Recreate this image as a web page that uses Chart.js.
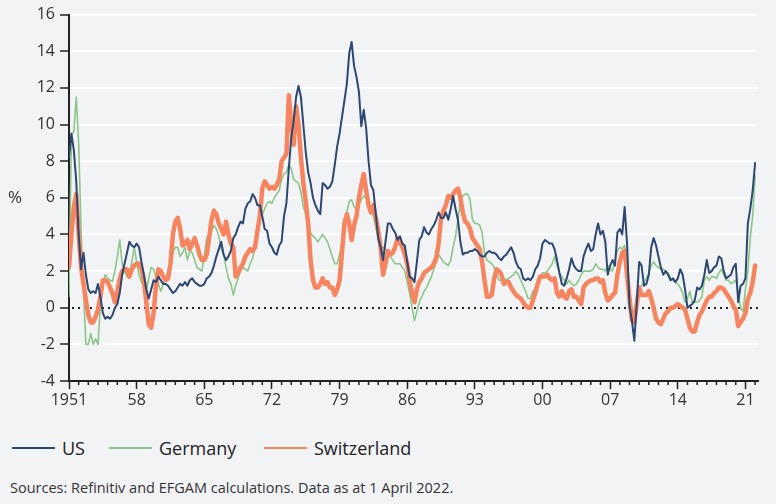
<!DOCTYPE html>
<html>
<head>
<meta charset="utf-8">
<script src="https://cdn.jsdelivr.net/npm/chart.js@4.4.1/dist/chart.umd.min.js"></script>
<style>
  html, body { margin: 0; padding: 0; }
  body { width: 776px; height: 504px; overflow: hidden; background: #f2f3f5; position: relative; font-family: 'Open Sans', sans-serif; }
  #wrap { position: absolute; left: 0; top: 0; width: 776px; height: 420px; }
  #legend { position: absolute; left: 12px; top: 438px; display: grid; grid-template-columns: 97px 155px auto; }
  .item { display: flex; align-items: center; font-size: 18px; line-height: 20px; color: #222; }
  .swatch { width: 43px; height: 2px; margin-right: 7px; }
  #source { position: absolute; left: 10px; top: 479px; font-size: 14.5px; line-height: 18px; color: #333; }
</style>
</head>
<body>
<div id="wrap"><canvas id="chart" width="776" height="420"></canvas></div>
<div id="legend"></div>
<div id="source">Sources: Refinitiv and EFGAM calculations. Data as at 1 April 2022.</div>
<script>
// Quarterly readings, 1951 Q1 to 2022 Q1 (one row per year)
const usCpi = [
  8.2, 9.5, 8.6, 6.9,
  4.0, 2.1, 3.0, 1.8,
  1.0, 0.8, 0.9, 0.8,
  1.3, 0.6, -0.3, -0.6,
  -0.5, -0.6, -0.4, 0.0,
  0.2, 0.8, 1.8, 2.4,
  3.0, 3.6, 3.4, 3.3,
  3.5, 3.3, 2.5, 1.8,
  1.0, 0.5, 1.0, 1.5,
  1.4, 1.7, 1.5, 1.3,
  1.3, 1.2, 1.0, 0.8,
  0.9, 1.1, 1.3, 1.2,
  1.4, 1.2, 1.5, 1.6,
  1.4, 1.3, 1.2, 1.2,
  1.3, 1.6, 1.7, 1.9,
  2.3, 2.8, 3.2, 3.6,
  2.9, 2.6, 2.8, 3.1,
  3.8, 4.0, 4.4, 4.7,
  4.6, 5.4, 5.7, 5.8,
  6.2, 6.0, 5.6, 5.6,
  5.0, 4.3, 4.2, 3.5,
  3.3, 3.0, 2.9, 3.4,
  3.6, 5.0, 5.7, 7.6,
  9.3, 10.2, 11.5, 12.1,
  11.5, 10.0, 8.5, 7.4,
  6.8, 6.0, 5.6, 5.3,
  5.1, 6.8, 6.7, 6.5,
  6.6, 6.9, 7.8, 8.8,
  9.5, 10.4, 11.3, 12.2,
  13.9, 14.5, 13.2, 12.6,
  11.8, 9.9, 10.8, 9.8,
  8.0, 6.7, 6.4, 5.1,
  3.8, 3.3, 2.6, 3.6,
  4.6, 4.6, 4.3, 4.1,
  3.7, 3.9, 3.5, 3.4,
  2.5, 1.7, 1.6, 1.4,
  2.5, 3.7, 3.9, 4.4,
  4.1, 4.0, 4.3, 4.5,
  4.8, 5.2, 4.9, 4.9,
  5.2, 4.8, 5.4, 6.1,
  5.4, 4.8, 3.6, 2.9,
  3.0, 3.0, 3.1, 3.1,
  3.2, 3.1, 2.9, 2.8,
  2.8, 3.0, 3.1, 3.0,
  3.0, 2.9, 2.7, 2.6,
  2.8, 2.9, 3.1, 3.3,
  3.0, 2.5, 2.2, 2.1,
  1.6, 1.5, 1.6, 1.5,
  1.7, 2.1, 2.3, 2.7,
  3.5, 3.7, 3.6, 3.5,
  3.5, 3.2, 2.6, 1.9,
  1.3, 1.2, 1.6, 2.1,
  2.7, 2.3, 2.1, 2.0,
  2.0, 2.8, 3.2, 3.5,
  3.1, 3.2, 4.0, 4.6,
  4.0, 4.2, 3.6, 1.8,
  2.3, 2.6, 2.3, 4.1,
  4.3, 4.0, 5.5, 3.5,
  0.1, -0.7, -1.8, 0.2,
  2.5, 2.3, 1.2, 1.3,
  1.8, 3.3, 3.8, 3.4,
  2.8, 2.2, 1.8, 2.0,
  1.8, 1.5, 1.6, 1.4,
  1.6, 2.1, 1.8, 1.0,
  0.0, 0.1, 0.2, 0.4,
  1.1, 1.0, 1.2, 1.8,
  2.6, 1.9, 2.0, 2.2,
  2.3, 2.8, 2.7, 2.0,
  1.6, 1.7, 1.8, 2.2,
  2.4, 0.3, 1.2, 1.3,
  1.6, 4.6, 5.4, 6.4,
  7.9
];

const germanyCpi = [
  0.6, 9.5, 9.6, 11.5,
  9.0, 4.2, 1.0, -2.0,
  -2.0, -1.4, -2.0, -1.7,
  -2.0, 0.2, 1.3, 1.8,
  1.6, 1.5, 1.45, 2.0,
  2.8, 3.7, 2.4, 2.0,
  1.7, 1.6, 2.5, 3.3,
  2.5, 1.8, 1.4, 1.1,
  0.9, 1.6, 2.2, 2.1,
  1.7, 1.3, 0.9, 1.3,
  1.6, 2.0, 2.4, 3.0,
  3.3, 3.3, 2.8, 3.0,
  3.3, 2.6, 3.1, 3.0,
  2.6, 2.2, 2.1, 2.0,
  2.8, 3.8, 4.0, 4.2,
  4.5, 4.3, 3.9, 3.2,
  2.9, 2.2, 1.6, 1.3,
  0.7, 1.2, 1.6, 2.0,
  2.2, 2.1, 2.0, 2.4,
  2.7, 3.3, 3.9, 4.7,
  5.1, 5.4, 5.7, 5.8,
  5.7, 6.0, 6.2, 6.4,
  7.0, 7.3, 7.4, 7.8,
  7.6, 7.0, 6.9, 6.8,
  6.3, 5.5, 5.1, 4.5,
  4.1, 3.9, 3.8, 3.6,
  3.8, 4.0, 3.8, 3.6,
  3.2, 2.8, 2.4, 2.4,
  2.9, 3.5, 4.4, 5.2,
  5.8, 5.9, 5.5, 5.4,
  5.6, 5.9, 6.1, 6.0,
  5.7, 5.4, 5.0, 4.4,
  3.8, 3.3, 3.3, 3.2,
  3.1, 2.8, 2.6, 2.4,
  2.4, 2.4, 2.2, 2.0,
  1.4, 0.8, 0.0, -0.7,
  -0.2, 0.3, 0.6, 0.9,
  1.1, 1.4, 1.7, 2.1,
  2.5, 2.9, 2.7, 2.5,
  2.4, 2.3, 2.6, 3.3,
  3.9, 4.8, 5.8, 6.1,
  6.2, 6.2, 5.9, 4.8,
  4.6, 4.6, 4.5, 4.1,
  3.0, 2.6, 2.5, 2.4,
  2.2, 1.8, 1.5, 1.5,
  1.6, 1.5, 1.6, 1.7,
  1.8, 2.0, 1.8, 1.5,
  1.2, 0.9, 0.5, 0.5,
  0.9, 1.0, 1.3, 1.5,
  1.9, 1.9, 2.0, 2.2,
  2.4, 2.8, 2.3, 1.9,
  1.7, 1.5, 1.3, 1.5,
  1.3, 1.2, 1.3, 1.5,
  1.8, 2.0, 2.0, 2.0,
  2.0, 2.1, 2.4, 2.2,
  2.1, 2.1, 2.0, 2.3,
  2.1, 2.0, 2.6, 3.1,
  3.3, 3.2, 3.4, 2.3,
  0.8, 0.0, -0.3, 0.5,
  1.1, 1.2, 1.4, 1.6,
  1.9, 2.3, 2.5, 2.3,
  2.2, 2.1, 2.1, 2.0,
  1.9, 1.6, 1.5, 1.4,
  1.3, 1.1, 0.8, 0.3,
  0.5, 0.9, 0.3, 0.3,
  0.3, 0.4, 0.6, 1.5,
  1.7, 1.5, 1.7, 1.7,
  1.6, 1.9, 2.1, 1.8,
  1.5, 1.5, 1.3, 1.4,
  1.5, 0.8, 0.0, -0.2,
  1.0, 2.0, 3.8, 5.0,
  7.2
];

const swissCpi = [
  2.2, 4.0, 5.5, 6.2,
  4.0, 2.2, 1.3, 0.4,
  -0.4, -0.8, -0.8, -0.5,
  -0.1, 0.6, 1.5, 1.5,
  1.4, 1.1, 0.8, 0.3,
  0.9, 1.6, 2.0, 2.1,
  2.1, 1.7, 2.1, 2.3,
  2.4, 2.4, 2.1, 1.5,
  0.3, -0.9, -1.1, -0.3,
  1.2, 2.1, 2.0, 1.7,
  1.5, 1.6, 2.4, 4.0,
  4.7, 4.9, 4.3, 3.4,
  3.5, 3.7, 3.2, 3.5,
  3.8, 3.4, 2.9, 2.6,
  2.6, 2.9, 3.8, 4.8,
  5.3, 5.1, 4.6, 4.3,
  4.0, 4.7, 4.0, 3.5,
  3.3, 1.7, 1.9, 2.2,
  2.4, 2.8, 3.0, 3.2,
  3.1, 3.3, 4.2, 5.0,
  6.5, 6.9, 6.7, 6.5,
  6.6, 6.5, 6.7, 7.0,
  8.0, 8.2, 8.4, 11.6,
  10.0, 8.9, 11.0, 10.0,
  8.2, 6.8, 5.8, 4.6,
  2.6, 1.5, 1.1, 1.1,
  1.3, 1.6, 1.3, 1.4,
  1.1, 1.1, 0.7, 1.0,
  1.5, 3.0, 4.6, 5.1,
  4.6, 3.7, 4.5, 5.0,
  6.0, 6.7, 7.3, 6.4,
  5.6, 5.2, 5.6, 4.9,
  4.2, 3.3, 1.8, 2.4,
  3.1, 2.9, 3.0, 3.3,
  3.8, 3.6, 3.3, 2.9,
  2.4, 1.5, 0.8, 0.3,
  1.0, 1.4, 1.6, 1.9,
  2.0, 2.1, 2.2, 2.4,
  2.7, 3.5, 4.9, 5.3,
  5.6, 6.1, 6.0, 6.2,
  6.4, 6.5, 6.0, 5.2,
  4.7, 4.6, 4.3, 3.8,
  3.6, 3.4, 3.2, 2.5,
  1.5, 0.6, 0.6, 0.7,
  1.6, 2.1, 2.0, 1.8,
  1.3, 1.4, 1.4, 1.1,
  0.9, 0.7, 0.6, 0.5,
  0.3, 0.1, 0.0, 0.0,
  0.4, 0.8, 1.3, 1.7,
  1.7, 1.7, 1.8, 1.6,
  1.5, 1.6, 0.8, 0.6,
  0.9, 0.6, 0.5, 0.9,
  1.0, 0.6, 0.6, 0.4,
  0.2, 1.1, 1.3, 1.4,
  1.5, 1.5, 1.6, 1.6,
  1.4, 1.5, 0.8, 0.4,
  0.5, 0.7, 0.8, 1.8,
  2.5, 3.0, 3.1, 1.8,
  0.5, -0.7, -0.8, 0.2,
  1.1, 0.7, 0.7, 0.7,
  0.9, 0.5, 0.0, -0.6,
  -0.8, -0.9, -0.6, -0.3,
  -0.2, 0.0, 0.0, 0.1,
  0.2, 0.1, 0.0, -0.1,
  -0.6, -1.1, -1.3, -1.3,
  -0.8, -0.4, -0.2, 0.1,
  0.4, 0.6, 0.6, 0.8,
  0.9, 1.1, 1.1, 1.0,
  0.8, 0.6, 0.4, 0.1,
  -0.1, -1.0, -0.8, -0.6,
  -0.3, 0.5, 0.8, 1.4,
  2.3
];

const firstYear = 1951;
const quarters = usCpi.map((_, i) => firstYear + i / 4);
const yearLabels = ['1951', '58', '65', '72', '79', '86', '93', '00', '07', '14', '21'];

// dotted zero line, minor year ticks and the % label
const extras = {
  id: 'extras',
  beforeDatasetsDraw(chart) {
    const { ctx, chartArea, scales } = chart;
    const y0 = Math.round(scales.y.getPixelForValue(0));
    ctx.save();
    ctx.strokeStyle = '#222';
    ctx.lineWidth = 2;
    ctx.setLineDash([2, 4]);
    ctx.beginPath();
    ctx.moveTo(chartArea.left + 3, y0);
    ctx.lineTo(chartArea.right, y0);
    ctx.stroke();
    ctx.restore();
  },
  afterDraw(chart) {
    const { ctx, chartArea, scales } = chart;
    ctx.save();
    ctx.strokeStyle = '#222';
    ctx.lineWidth = 1.5;
    scales.x.ticks.forEach(t => {
      if ((t.value - firstYear) % 7 === 0) return;
      const x = scales.x.getPixelForValue(t.value);
      ctx.beginPath();
      ctx.moveTo(x, chartArea.bottom);
      ctx.lineTo(x, chartArea.bottom + 4);
      ctx.stroke();
    });
    ctx.fillStyle = '#333';
    ctx.font = "17px 'Open Sans'";
    ctx.textAlign = 'center';
    ctx.textBaseline = 'middle';
    ctx.fillText('%', 15, (chartArea.top + chartArea.bottom) / 2);
    ctx.restore();
  }
};

const chart = new Chart(document.getElementById('chart'), {
  type: 'line',
  data: {
    labels: quarters,
    datasets: [
      { label: 'US', data: usCpi, borderColor: '#2c4772', borderWidth: 2, order: 0 },
      { label: 'Germany', data: germanyCpi, borderColor: '#8cc689', borderWidth: 1.6, order: 2 },
      { label: 'Switzerland', data: swissCpi, borderColor: '#f5845f', borderWidth: 4.5, order: 1 }
    ]
  },
  options: {
    responsive: false,
    animation: false,
    layout: { padding: { top: 14, right: 18, left: 0, bottom: 0 } },
    elements: {
      point: { radius: 0 },
      line: { tension: 0, borderJoinStyle: 'round', borderCapStyle: 'round' }
    },
    plugins: {
      legend: { display: false },
      tooltip: { enabled: false }
    },
    scales: {
      x: {
        type: 'linear',
        min: 1951,
        max: 2022.3,
        afterFit: s => { s.height = 39; },
        border: { color: '#222', width: 2 },
        grid: {
          drawOnChartArea: false,
          tickLength: 8,
          tickWidth: 1.5,
          tickColor: c => ((c.tick.value - firstYear) % 7 === 0 ? '#222' : 'rgba(0,0,0,0)')
        },
        ticks: {
          stepSize: 1,
          autoSkip: false,
          includeBounds: false,
          maxRotation: 0,
          padding: 2,
          color: '#333',
          font: { family: 'Open Sans', size: 16 },
          callback: v => ((v - firstYear) % 7 === 0 ? yearLabels[(v - firstYear) / 7] : '')
        }
      },
      y: {
        min: -4,
        max: 16,
        afterFit: s => { s.width = 69; },
        border: { color: '#222', width: 2 },
        grid: {
          color: c => (c.tick.value === 0 || c.tick.value === -4 ? 'rgba(0,0,0,0)' : '#ffffff'),
          lineWidth: 2,
          tickColor: '#222',
          tickLength: 9,
          tickWidth: 1.5
        },
        ticks: {
          stepSize: 2,
          padding: 5,
          color: '#333',
          font: { family: 'Open Sans', size: 16 }
        }
      }
    }
  },
  plugins: [extras]
});

// legend built from the datasets
const legend = document.getElementById('legend');
chart.data.datasets.forEach(ds => {
  const item = document.createElement('div');
  item.className = 'item';
  item.innerHTML = `<span class="swatch" style="background:${ds.borderColor}"></span><span>${ds.label}</span>`;
  legend.appendChild(item);
});
</script>
</body>
</html>
